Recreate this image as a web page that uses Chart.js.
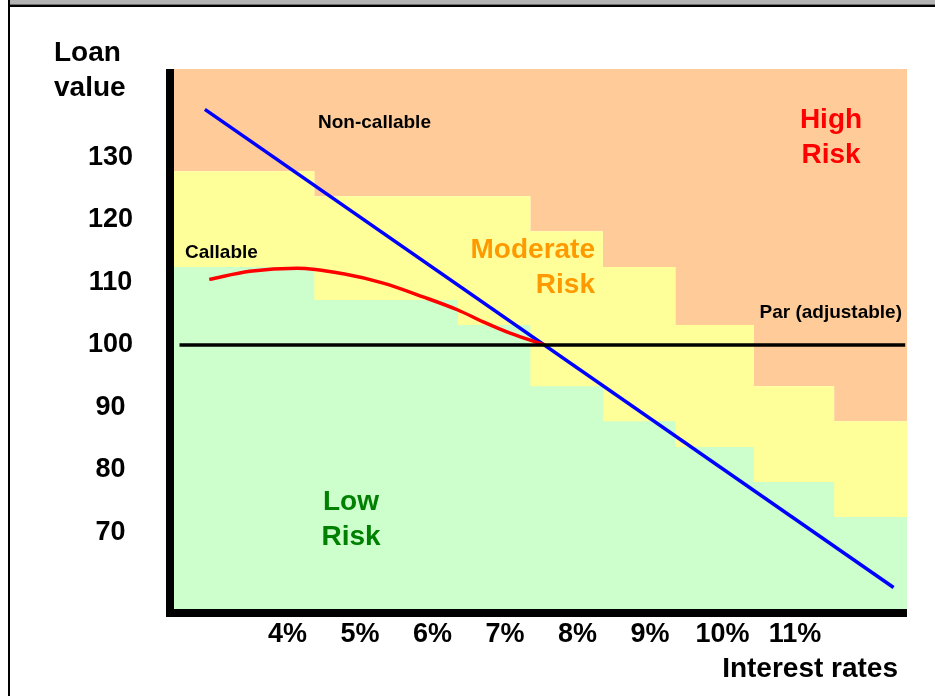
<!DOCTYPE html>
<html>
<head>
<meta charset="utf-8">
<script src="https://cdn.jsdelivr.net/npm/chart.js@4.4.0/dist/chart.umd.min.js"></script>
<style>
html, body { margin: 0; padding: 0; background: #fff; }
</style>
</head>
<body>
<canvas id="chart" width="935" height="696"></canvas>
<script>
// step edges of the risk zones (interest rate, %)
const zoneEdges = [2.43, 4.37, 6.35, 7.35, 8.35, 9.35, 10.43, 11.54, 12.55];
// loan value above which risk is high
const highRiskFloor = [127.8, 123.8, 123.8, 118.2, 112.5, 103.2, 93.4, 87.8, 87.8];
// loan value above which risk is moderate
const moderateRiskFloor = [112.5, 107.2, 103.2, 93.4, 87.8, 83.7, 78.1, 72.5, 72.5];

// non-callable loan: straight line
const nonCallableRates = [2.86, 12.36];
const nonCallableValues = [137.7, 61.2];

// callable loan: capped curve
const callableRates = [2.92, 3.48, 4.13, 4.77, 5.32, 5.87, 6.35, 6.70, 7.07, 7.55];
const callableValues = [110.5, 111.8, 112.3, 111.4, 109.9, 107.7, 105.6, 103.7, 101.9, 100.0];

// par (adjustable)
const parRates = [2.51, 12.52];
const parValues = [100, 100];

const yTicks = [70, 80, 90, 100, 110, 120, 130];
const xTicks = [4, 5, 6, 7, 8, 9, 10, 11];

const FAMILY = '"Liberation Sans", Arial, sans-serif';
const zip = (xs, ys) => xs.map((x, i) => ({ x: x, y: ys[i] }));

const decorations = {
    id: 'decorations',
    beforeDraw(chart) {
        const ctx = chart.ctx;
        ctx.save();
        ctx.fillStyle = '#fff';
        ctx.fillRect(0, 0, chart.width, chart.height);
        ctx.fillStyle = '#b3b3b3';
        ctx.fillRect(10, 0, 925, 4.5);
        ctx.fillStyle = '#000';
        ctx.fillRect(8, 4.5, 927, 2.5);
        ctx.fillRect(8, 0, 2, chart.height);
        ctx.restore();
    },
    afterDraw(chart) {
        const ctx = chart.ctx;
        const a = chart.chartArea;
        ctx.save();
        // thick axes
        ctx.fillStyle = '#000';
        ctx.fillRect(a.left - 8, a.top, 8, a.bottom - a.top + 8);
        ctx.fillRect(a.left - 8, a.bottom, a.right - a.left + 8, 8);

        const text = (str, x, y, size, color, align) => {
            ctx.font = 'bold ' + size + 'px ' + FAMILY;
            ctx.fillStyle = color;
            ctx.textAlign = align;
            ctx.textBaseline = 'alphabetic';
            ctx.fillText(str, x, y);
        };
        text('Loan', 54, 61, 28, '#000', 'left');
        text('value', 54, 96, 28, '#000', 'left');
        text('Interest rates', 898, 677, 28, '#000', 'right');
        text('Non-callable', 318, 128, 19, '#000', 'left');
        text('Callable', 185, 258, 19, '#000', 'left');
        text('Par (adjustable)', 902, 318, 19, '#000', 'right');
        text('High', 831, 128, 28, '#ff0000', 'center');
        text('Risk', 831, 163, 28, '#ff0000', 'center');
        text('Moderate', 595, 258, 28, '#ff9900', 'right');
        text('Risk', 595, 293, 28, '#ff9900', 'right');
        text('Low', 351, 510, 28, '#008000', 'center');
        text('Risk', 351, 545, 28, '#008000', 'center');
        ctx.restore();
    }
};

const zone = (data, fill, color, order) => ({
    data: data,
    stepped: 'before',
    fill: fill,
    backgroundColor: color,
    borderColor: 'transparent',
    borderWidth: 0,
    pointRadius: 0,
    order: order
});

const curve = (data, color, order) => ({
    data: data,
    borderColor: color,
    borderWidth: 3.5,
    pointRadius: 0,
    fill: false,
    cubicInterpolationMode: 'monotone',
    order: order
});

new Chart(document.getElementById('chart').getContext('2d'), {
    type: 'line',
    data: {
        datasets: [
            curve(zip(parRates, parValues), '#000000', 0),
            curve(zip(callableRates, callableValues), '#ff0000', 0),
            curve(zip(nonCallableRates, nonCallableValues), '#0000ff', 0),
            zone(zip(zoneEdges, moderateRiskFloor), 'start', '#ccffcc', 1),
            zone(zip(zoneEdges, highRiskFloor), 'start', '#ffff99', 2),
            zone(zip(zoneEdges, highRiskFloor), 'end', '#ffcc99', 3)
        ]
    },
    options: {
        responsive: false,
        animation: false,
        layout: { padding: { left: 0, top: 69, right: 28, bottom: 27 } },
        plugins: {
            legend: { display: false },
            tooltip: { enabled: false }
        },
        scales: {
            x: {
                type: 'linear',
                min: 2.434,
                max: 12.545,
                grid: { display: false, drawTicks: false },
                border: { display: false },
                afterBuildTicks: s => { s.ticks = xTicks.map(v => ({ value: v })); },
                afterFit: s => { s.height = 60; },
                ticks: {
                    padding: 9,
                    color: '#000',
                    font: { family: FAMILY, size: 27, weight: 'bold' },
                    callback: v => v + '%'
                }
            },
            y: {
                type: 'linear',
                min: 57.76,
                max: 144.16,
                grid: { display: false, drawTicks: false },
                border: { display: false },
                afterBuildTicks: s => { s.ticks = yTicks.map(v => ({ value: v })); },
                afterFit: s => { s.width = 174; },
                ticks: {
                    padding: 41,
                    crossAlign: 'center',
                    color: '#000',
                    font: { family: FAMILY, size: 27, weight: 'bold' },
                    callback: v => String(v)
                }
            }
        }
    },
    plugins: [decorations]
});
</script>
</body>
</html>
